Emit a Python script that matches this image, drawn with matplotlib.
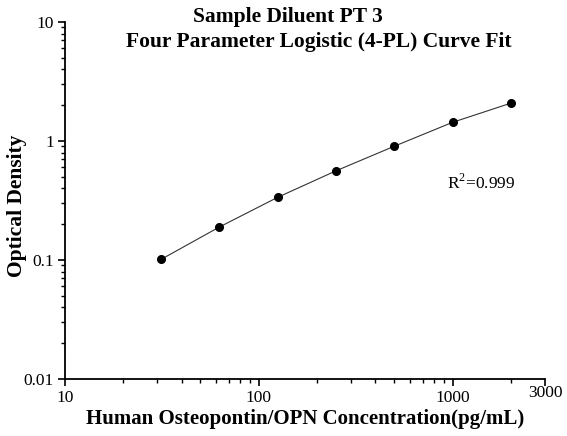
import matplotlib
matplotlib.use("Agg")
import matplotlib.pyplot as plt
from matplotlib.ticker import FixedLocator, FixedFormatter, NullFormatter

# standard curve points
conc = [31.25, 62.5, 125, 250, 500, 1000, 2000]
od = [0.101, 0.189, 0.336, 0.561, 0.903, 1.435, 2.08]

x_ticks = [10, 100, 1000, 3000]
x_labels = ["10", "100", "1000", "3000"]
y_ticks = [0.01, 0.1, 1, 10]
y_labels = ["0.01", "0.1", "1", "10"]

plt.rcParams['font.family'] = ['Liberation Serif', 'DejaVu Serif']
plt.rcParams['mathtext.fontset'] = 'custom'
plt.rcParams['mathtext.rm'] = 'Liberation Serif'

fig = plt.figure(figsize=(5.67, 4.36), dpi=100)
ax = fig.add_axes([65 / 567, 57 / 436, 480 / 567, 357 / 436])

ax.plot(conc, od, color="#333333", linewidth=0.8, zorder=2)
ax.plot(conc, od, "o", color="black", markersize=5.5, zorder=3)

ax.set_xscale("log")
ax.set_yscale("log")
ax.set_xlim(10, 3000)
ax.set_ylim(0.01, 10)

ax.xaxis.set_major_locator(FixedLocator(x_ticks))
ax.xaxis.set_major_formatter(FixedFormatter(x_labels))
minor_x = [m * d for d in (10, 100) for m in range(2, 10)] + [2000]
ax.xaxis.set_minor_locator(FixedLocator(minor_x))
ax.xaxis.set_minor_formatter(NullFormatter())

ax.yaxis.set_major_locator(FixedLocator(y_ticks))
ax.yaxis.set_major_formatter(FixedFormatter(y_labels))
minor_y = [m * d for d in (0.01, 0.1, 1) for m in range(2, 10)]
ax.yaxis.set_minor_locator(FixedLocator(minor_y))
ax.yaxis.set_minor_formatter(NullFormatter())

for s in ["top", "right"]:
    ax.spines[s].set_visible(False)
for s in ["left", "bottom"]:
    ax.spines[s].set_linewidth(1.3)

ax.tick_params(which="major", direction="out", length=5, width=1.2, labelsize=12.5)
ax.tick_params(axis="x", which="major", pad=3)
ax.tick_params(axis="y", which="major", pad=3)
ax.tick_params(which="minor", direction="out", length=3, width=1.0)

# 3000 label sits a little higher in the original
ax.xaxis.get_major_ticks()[-1].set_pad(-0.5)

ax.set_xlabel("Human Osteopontin/OPN Concentration(pg/mL)", fontsize=15,
              fontweight="bold")
ax.xaxis.set_label_coords((305 - 65) / 480, -(419 - 379) / 357)
ax.set_ylabel("Optical Density", fontsize=15.5, fontweight="bold")
ax.yaxis.set_label_coords((17 - 65) / 480, (379 - 206) / 357)
ax.xaxis.label.set_va("center")
ax.yaxis.label.set_va("center")

fig.text(288 / 567, 1 - 17 / 436, "Sample Diluent PT 3", ha="center", va="center",
         fontsize=15.5, fontweight="bold")
fig.text(319 / 567, 1 - 42 / 436, "Four Parameter Logistic (4-PL) Curve Fit",
         ha="center", va="center", fontsize=15.5, fontweight="bold")

ax.text(447 / 567, 1 - 183 / 436, r"R$^{\mathrm{2}}$=0.999", transform=fig.transFigure,
        ha="left", va="center", fontsize=12.5)

fig.savefig("out.png", dpi=100)
